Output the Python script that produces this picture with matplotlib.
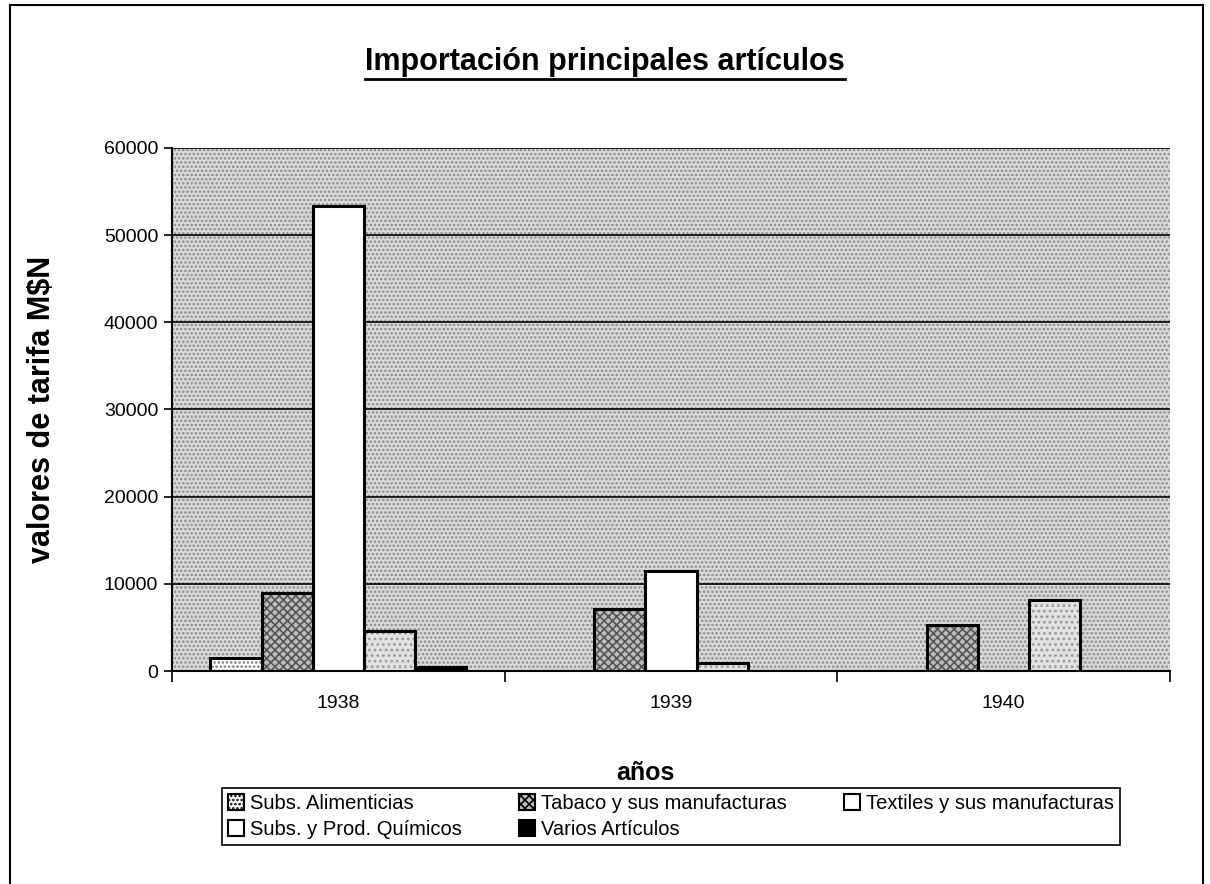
import matplotlib.pyplot as plt
import matplotlib.patches as mpatches
import numpy as np

plt.rcParams['font.family'] = ['Liberation Sans', 'DejaVu Sans']
plt.rcParams['hatch.linewidth'] = 1.2

years = ['1938', '1939', '1940']
series = ['Subs. Alimenticias', 'Tabaco y sus manufacturas',
          'Textiles y sus manufacturas', 'Subs. y Prod. Químicos',
          'Varios Artículos']
alimenticias = [1500, 0, 0]
tabaco = [9000, 7150, 5300]
textiles = [53300, 11500, 0]
quimicos = [4600, 950, 8100]
varios = [500, 0, 0]
values = [alimenticias, tabaco, textiles, quimicos, varios]

# fill styles per series (face, hatch, hatch colour)
styles = [('white', '....', '#777777'),
          ('#bdbdbd', 'xxxx', '#555555'),
          ('white', None, 'white'),
          ('#e2e2e2', '...', '#999999'),
          ('black', None, 'black')]
# the scanned legend shows the chemicals key as a plain white box
legend_styles = [styles[0], styles[1], styles[2], ('white', None, 'white'), styles[4]]

fig = plt.figure(figsize=(12.1, 8.84), dpi=100)
ax = fig.add_axes([172 / 1210, 1 - 671 / 884, (1170 - 172) / 1210, (671 - 148) / 884])

# outer chart frame
fig.patches.append(mpatches.Rectangle((10 / 1210, -0.02), 1193 / 1210, 1.02 - 5 / 884,
                                      transform=fig.transFigure, fill=False,
                                      edgecolor='black', linewidth=1.5))

# stippled plot area
ax.set_facecolor('#dadada')
bg = mpatches.Rectangle((0, 0), 1, 1, transform=ax.transAxes, facecolor='none',
                        hatch='....', edgecolor='#8a8a8a', linewidth=0, zorder=0)
ax.add_patch(bg)

x = np.arange(len(years))
w = 1 / 6.5
handles = []
for i, (name, vals) in enumerate(zip(series, values)):
    face, hatch, hc = styles[i]
    pos = x + (i - 2) * w
    ax.bar(pos, vals, w, color=face, hatch=hatch, edgecolor=hc, linewidth=0, zorder=3)
    ax.bar(pos, vals, w, color='none', edgecolor='black', linewidth=2.2, zorder=4)
    lf, lh, _ = legend_styles[i]
    handles.append(mpatches.Patch(facecolor=lf, hatch=lh, edgecolor='black', linewidth=1.5))

ax.set_ylim(0, 60000)
ax.set_xlim(-0.5, 2.5)
ax.set_yticks(np.arange(0, 60001, 10000))
ax.yaxis.grid(True, color='black', linewidth=1.2)
ax.set_axisbelow(False)
ax.tick_params(axis='y', labelsize=14, length=6, width=1.2, pad=4)

ax.set_xticks(x)
ax.set_xticklabels(years)
ax.set_xticks(np.arange(-0.5, 2.6, 1), minor=True)
ax.tick_params(axis='x', which='major', length=0, labelsize=14, pad=17)
ax.tick_params(axis='x', which='minor', length=8, width=1.2)

for s in ['top', 'right']:
    ax.spines[s].set_visible(False)
ax.spines['left'].set_linewidth(1.5)
ax.spines['bottom'].set_linewidth(1.5)
for gl in ax.get_ygridlines():
    gl.set_zorder(2)

ax.set_ylabel('valores de tarifa M$N', fontsize=22, fontweight='bold')
ax.yaxis.set_label_coords((57 - 172) / 998, 0.5)
ax.set_xlabel('años', fontsize=18, fontweight='bold')
ax.xaxis.set_label_coords((645 - 172) / 998, -(761 - 671) / 523)

title = fig.text(605 / 1210, 1 - 62 / 884, 'Importación principales artículos',
                 fontsize=22, fontweight='bold', ha='center', va='center')
fig.canvas.draw()
bb = title.get_window_extent().transformed(fig.transFigure.inverted())
fig.add_artist(plt.Line2D([bb.x0, bb.x1], [bb.y0 - 0.002, bb.y0 - 0.002],
                          transform=fig.transFigure, color='black', linewidth=2))

order = [0, 3, 1, 4, 2]
leg = fig.legend([handles[k] for k in order], [series[k] for k in order],
                 ncol=3, loc='lower left', mode='expand', borderaxespad=0,
                 bbox_to_anchor=(222 / 1210, 1 - 845 / 884, 898 / 1210, 56 / 884),
                 fontsize=14.5, handlelength=0.8, handleheight=0.8, handletextpad=0.3,
                 borderpad=0.3, labelspacing=0.35, columnspacing=1.0,
                 fancybox=False, edgecolor='black', framealpha=1)
leg.get_frame().set_linewidth(1.2)

fig.savefig('out.png', dpi=100)
